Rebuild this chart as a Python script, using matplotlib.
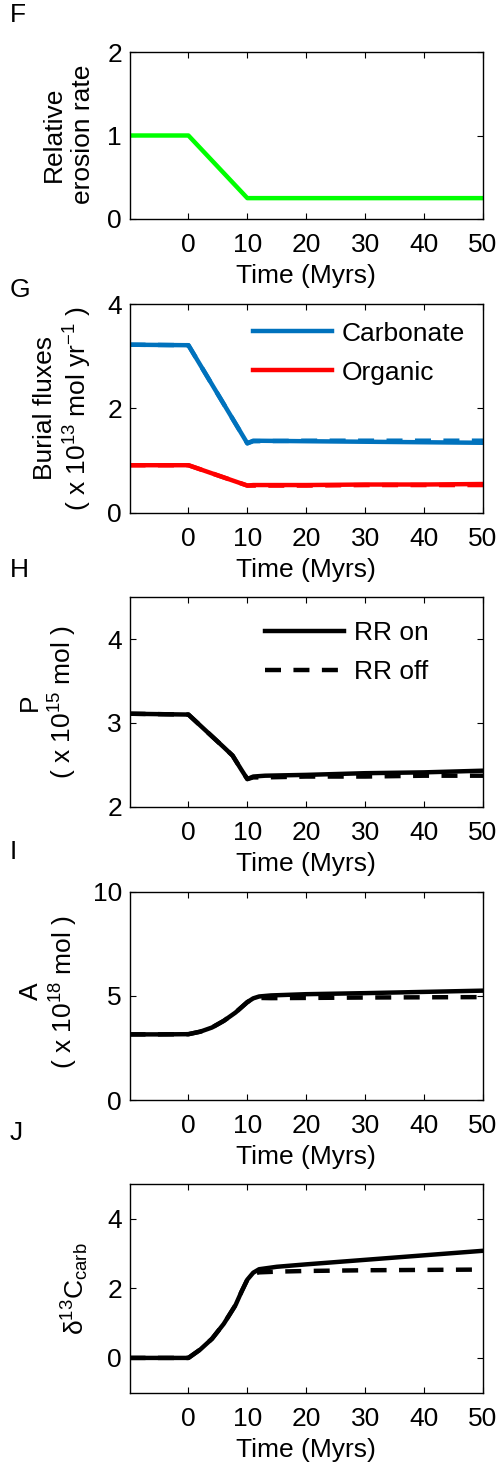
import numpy as np
import matplotlib
matplotlib.use('Agg')
from matplotlib import pyplot as plt

plt.rcParams['font.family'] = ['Liberation Sans', 'DejaVu Sans']
plt.rcParams['mathtext.fontset'] = 'custom'
plt.rcParams['mathtext.rm'] = 'Liberation Sans'
plt.rcParams['mathtext.it'] = 'Liberation Sans:italic'
plt.rcParams['font.size'] = 19

# F: relative erosion rate
t_erosion = [-10, 0, 10, 50]
erosion = [1.0, 1.0, 0.25, 0.25]

# G: burial fluxes (x 1e13 mol/yr), solid = RR on, dashed = RR off
t_burial = [-10, 0, 10, 11, 20, 30, 40, 50]
carb_on = [3.22, 3.21, 1.33, 1.38, 1.37, 1.36, 1.35, 1.34]
carb_off = [3.22, 3.21, 1.33, 1.37, 1.38, 1.38, 1.38, 1.38]
org_on = [0.91, 0.91, 0.52, 0.53, 0.53, 0.54, 0.54, 0.55]
org_off = [0.91, 0.91, 0.52, 0.52, 0.52, 0.53, 0.53, 0.53]

# H: P (x 1e15 mol)
t_p = [-10, 0, 2, 4, 6, 7.5, 9, 10, 11, 13, 20, 30, 40, 50]
p_on = [3.11, 3.10, 2.97, 2.84, 2.71, 2.61, 2.44, 2.33, 2.36, 2.37, 2.38, 2.40, 2.41, 2.43]
p_off = [3.11, 3.10, 2.97, 2.84, 2.71, 2.61, 2.44, 2.33, 2.35, 2.35, 2.36, 2.36, 2.37, 2.37]

# I: A (x 1e18 mol)
t_a = [-10, -5, 0, 2, 4, 6, 8, 9, 10, 11, 12, 14, 20, 30, 40, 50]
a_on = [3.15, 3.15, 3.16, 3.28, 3.48, 3.80, 4.20, 4.45, 4.70, 4.88, 4.97, 5.02, 5.08, 5.13, 5.19, 5.25]
a_off = [3.15, 3.15, 3.16, 3.28, 3.48, 3.80, 4.20, 4.45, 4.70, 4.86, 4.90, 4.89, 4.90, 4.92, 4.93, 4.94]

# J: d13C carb
t_d = [-10, -5, 0, 2, 4, 6, 8, 9, 10, 11, 12, 15, 20, 30, 40, 50]
d_on = [0.0, 0.0, 0.0, 0.24, 0.55, 0.98, 1.52, 1.90, 2.25, 2.45, 2.55, 2.62, 2.69, 2.82, 2.95, 3.08]
d_off = [0.0, 0.0, 0.0, 0.24, 0.55, 0.98, 1.52, 1.90, 2.25, 2.42, 2.46, 2.48, 2.50, 2.52, 2.53, 2.54]

xticks = [0, 10, 20, 30, 40, 50]

W, H = 497, 1464
fig = plt.figure(figsize=(W / 100, H / 100), dpi=100)

def make_axes(top_px, bottom_px):
    left = 129.5 / W
    width = 353.5 / W
    return fig.add_axes([left, 1 - bottom_px / H, width, (bottom_px - top_px) / H])

def style(ax, ylim, yticks):
    ax.set_xlim(-10, 50)
    ax.set_ylim(*ylim)
    ax.set_xticks(xticks)
    ax.set_yticks(yticks)
    ax.tick_params(direction='in', length=4, width=0.8, top=True, right=True,
                   labelsize=19)
    ax.tick_params(axis='x', pad=10)
    ax.tick_params(axis='y', pad=5.4)
    for s in ax.spines.values():
        s.set_linewidth(1.0)
    ax.set_xlabel('Time (Myrs)', labelpad=5)

def add_legend(ax, handles, labels, x, y):
    ax.legend(handles, labels, loc='upper left', bbox_to_anchor=(x, y),
              frameon=False, handlelength=3.0, handletextpad=0.38,
              labelspacing=0.57, borderpad=0, borderaxespad=0, fontsize=19)

lw = 3.2
dash = (3.6, 2.8)

# F
axF = make_axes(52, 219)
axF.plot(t_erosion, erosion, color='#00ff00', lw=lw)
style(axF, (0, 2), [0, 1, 2])
axF.set_ylabel('Relative\nerosion rate', multialignment='center', linespacing=1.27)
axF.yaxis.set_label_coords(-0.098, 0.51)

# G
axG = make_axes(304, 512.7)
axG.plot(t_burial, carb_off, color='#0072bd', lw=lw, dashes=dash)
axG.plot(t_burial, org_off, color='#ff0000', lw=lw, dashes=dash)
hc, = axG.plot(t_burial, carb_on, color='#0072bd', lw=lw)
ho, = axG.plot(t_burial, org_on, color='#ff0000', lw=lw)
style(axG, (0, 4), [0, 2, 4])
axG.set_ylabel('Burial fluxes\n( x 10$^{13}$ mol yr$^{-1}$ )')
axG.yaxis.set_label_coords(-0.100, 0.5)
add_legend(axG, [hc, ho], ['Carbonate', 'Organic'], 0.349, 0.916)

# H
axH = make_axes(597.3, 806.7)
hoff, = axH.plot(t_p, p_off, color='black', lw=lw, dashes=dash)
hon, = axH.plot(t_p, p_on, color='black', lw=lw)
style(axH, (2, 4.5), [2, 3, 4])
axH.set_ylabel('P\n( x 10$^{15}$ mol )')
axH.yaxis.set_label_coords(-0.142, 0.5)
add_legend(axH, [hon, hoff], ['RR on', 'RR off'], 0.383, 0.886)

# I
axI = make_axes(891.7, 1100)
axI.plot(t_a, a_off, color='black', lw=lw, dashes=dash)
axI.plot(t_a, a_on, color='black', lw=lw)
style(axI, (0, 10), [0, 5, 10])
axI.set_ylabel('A\n( x 10$^{18}$ mol )')
axI.yaxis.set_label_coords(-0.140, 0.52)

# J
axJ = make_axes(1184, 1392.7)
axJ.plot(t_d, d_off, color='black', lw=lw, dashes=dash)
axJ.plot(t_d, d_on, color='black', lw=lw)
style(axJ, (-1, 5), [0, 2, 4])
axJ.set_ylabel('δ$^{13}$C$_{\\mathrm{carb}}$')
axJ.yaxis.set_label_coords(-0.109, 0.5)

# panel letters
for letter, ypx in [('F', 15), ('G', 290), ('H', 570), ('I', 852), ('J', 1133)]:
    fig.text(10 / W, 1 - ypx / H, letter, ha='left', va='center', fontsize=19)

fig.savefig('out.png', dpi=100)
